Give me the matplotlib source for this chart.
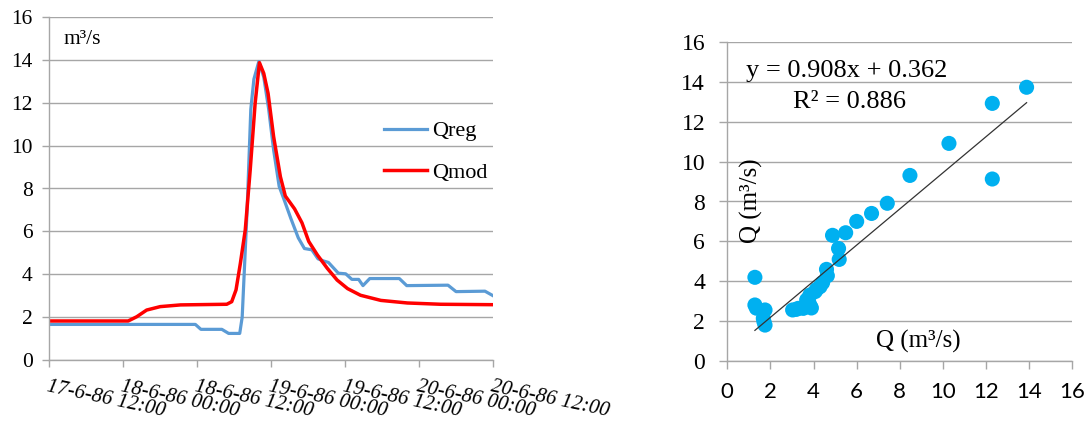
import matplotlib
matplotlib.use("Agg")
import matplotlib.pyplot as plt
import matplotlib.transforms as mtransforms

# ---------------- data ----------------
# left chart: hydrograph (hours since 17-6-86 12:00)
hours_reg = [0, 23.7, 24.6, 28.0, 29.1, 30.9, 31.3, 32.1, 32.7, 33.2, 34.0, 34.8,
             35.6, 36.4, 37.3, 38.2, 39.2, 40.4, 41.4, 42.6, 43.6, 44.5, 45.3,
             46.9, 48.1, 49.1, 50.2, 50.9, 52.0, 56.8, 58.0, 64.7, 66.0, 70.7, 72]
q_reg = [1.66, 1.66, 1.43, 1.43, 1.24, 1.24, 2.0, 7.0, 11.7, 13.1, 13.92, 13.2,
         11.7, 9.8, 8.1, 7.4, 6.6, 5.7, 5.2, 5.14, 4.72, 4.62, 4.55,
         4.05, 4.02, 3.76, 3.76, 3.47, 3.8, 3.8, 3.47, 3.49, 3.19, 3.21, 3.0]

hours_mod = [0, 12.8, 14.2, 15.8, 18.0, 21.3, 28.8, 29.6, 30.3, 31.0, 31.8, 32.6,
             33.4, 34.1, 34.8, 35.5, 36.4, 37.5, 38.3, 39.8, 41.0, 42.1, 43.5,
             45.1, 46.7, 48.4, 50.5, 53.8, 58.1, 63.5, 72]
q_mod = [1.82, 1.82, 2.02, 2.33, 2.49, 2.57, 2.6, 2.72, 3.27, 4.5, 6.07, 8.86,
         11.97, 13.87, 13.37, 12.44, 10.42, 8.55, 7.65, 7.05, 6.4, 5.53, 4.9,
         4.28, 3.73, 3.33, 3.02, 2.78, 2.66, 2.6, 2.58]

tick_hours = [0, 12, 24, 36, 48, 60, 72]
tick_labels = ["17-6-86 12:00", "18-6-86 00:00", "18-6-86 12:00", "19-6-86 00:00",
               "19-6-86 12:00", "20-6-86 00:00", "20-6-86 12:00"]

# right chart: scatter
sc_x = [13.88, 12.29, 12.29, 10.28, 8.47, 7.42, 6.69, 6.0, 5.49, 4.88, 5.16, 5.19,
        4.6, 4.64, 4.42, 4.14, 3.83, 3.68, 3.83, 3.52, 3.2, 3.03, 3.29, 3.6, 3.76,
        3.9, 1.28, 1.28, 1.35, 1.75, 1.67, 1.7, 1.75, 4.3, 4.07]
sc_y = [13.74, 12.93, 9.13, 10.92, 9.31, 7.91, 7.40, 7.0, 6.43, 6.30, 5.64, 5.09,
        4.59, 4.27, 3.92, 3.58, 3.3, 3.05, 2.8, 2.63, 2.58, 2.55, 2.63, 2.71, 2.97,
        2.65, 4.19, 2.8, 2.64, 2.55, 2.13, 1.96, 1.79, 3.72, 3.47]
slope = 0.908
intercept = 0.362
r2 = 0.886

# ---------------- style ----------------
SERIF = ["Liberation Serif", "DejaVu Serif"]
SANS = ["Lato", "DejaVu Sans"]
GRID = "#a6a6a6"
BLUE = "#5B9BD5"
RED = "#FF0000"
DOT = "#00B0F0"

fig = plt.figure(figsize=(10.9, 4.23), dpi=100)

# ---------------- left chart ----------------
ax1 = fig.add_axes([49.3 / 1090, 1 - 360 / 423, (493 - 49.3) / 1090, (360 - 17) / 423])
ax1.set_xlim(0, 72)
ax1.set_ylim(0, 16)
ax1.set_yticks(range(0, 17, 2))
ax1.yaxis.grid(True, color=GRID, linewidth=1.0)
ax1.set_axisbelow(True)
for s in ["top", "right"]:
    ax1.spines[s].set_visible(False)
for s in ["left", "bottom"]:
    ax1.spines[s].set_color(GRID)
    ax1.spines[s].set_linewidth(1.0)
ax1.tick_params(axis="y", direction="out", length=5, width=1.0, color=GRID, pad=7)
ax1.tick_params(axis="x", direction="out", length=5, width=1.0, color=GRID)
ax1.set_xticks(tick_hours)
ax1.set_xticklabels([])
for lab in ax1.get_yticklabels():
    lab.set_fontfamily(SERIF)
    lab.set_fontsize(15.5)

ax1.plot(hours_reg, q_reg, color=BLUE, lw=2.3, label="Qreg", solid_joinstyle="round")
ax1.plot(hours_mod, q_mod, color=RED, lw=2.5, label="Qmod", solid_joinstyle="round")

trans = mtransforms.blended_transform_factory(ax1.transData, ax1.transAxes)
for h, t in zip(tick_hours, tick_labels):
    off = mtransforms.offset_copy(trans, fig=fig, x=0, y=-17, units="dots")
    ax1.text(h, 0, t, transform=off, fontfamily=SERIF, fontstyle="italic", fontsize=15,
             rotation=-12, rotation_mode="anchor", ha="left", va="top", clip_on=False)

ax1.text(63 / 1090, 1 - 40 / 423, "m³/s", transform=fig.transFigure, fontfamily=SERIF,
         fontsize=15.5, ha="left", va="center")

leg = ax1.legend(loc="center left", bbox_to_anchor=(384 / 1090, 1 - 152 / 423),
                 bbox_transform=fig.transFigure, frameon=False,
                 prop={"family": SERIF, "size": 16}, handlelength=1.95,
                 handletextpad=0.2, labelspacing=0.95, borderpad=0, borderaxespad=0)

# ---------------- right chart ----------------
ax2 = fig.add_axes([727.3 / 1090, 1 - 360.7 / 423, (1072.3 - 727.3) / 1090, (360.7 - 42.3) / 423])
ax2.set_xlim(0, 16)
ax2.set_ylim(0, 16)
ax2.set_xticks(range(0, 17, 2))
ax2.set_yticks(range(0, 17, 2))
ax2.yaxis.grid(True, color=GRID, linewidth=1.0)
ax2.set_axisbelow(True)
for s in ["top", "right"]:
    ax2.spines[s].set_visible(False)
for s in ["left", "bottom"]:
    ax2.spines[s].set_color(GRID)
    ax2.spines[s].set_linewidth(1.0)
ax2.tick_params(axis="y", direction="out", length=6, width=1.0, color=GRID, pad=10)
ax2.tick_params(axis="x", direction="out", length=6, width=1.0, color=GRID, pad=9)
for lab in ax2.get_yticklabels():
    lab.set_fontfamily(SERIF)
    lab.set_fontsize(17)
for lab in ax2.get_xticklabels():
    lab.set_fontfamily(SANS)
    lab.set_fontsize(16)

ax2.scatter(sc_x, sc_y, s=118, color=DOT, edgecolors="none", zorder=3)
x0, x1 = min(sc_x), max(sc_x)
ax2.plot([x0, x1], [slope * x0 + intercept, slope * x1 + intercept], color="#333333",
         lw=0.9, zorder=4)

fig.text(746 / 1090, 1 - 77.3 / 423, f"y = {slope:.3f}x + {intercept:.3f}",
         fontfamily=SERIF, fontsize=19, ha="left", va="baseline")
fig.text(793 / 1090, 1 - 108.3 / 423, f"R² = {r2:.3f}",
         fontfamily=SERIF, fontsize=19, ha="left", va="baseline")
fig.text(751 / 1090, 1 - 201 / 423, "Q (m³/s)", fontfamily=SERIF, fontsize=18,
         rotation=90, ha="center", va="center")
fig.text(918 / 1090, 1 - 341 / 423, "Q (m³/s)", fontfamily=SERIF, fontsize=18,
         ha="center", va="center")

fig.savefig("out.png", dpi=100)
